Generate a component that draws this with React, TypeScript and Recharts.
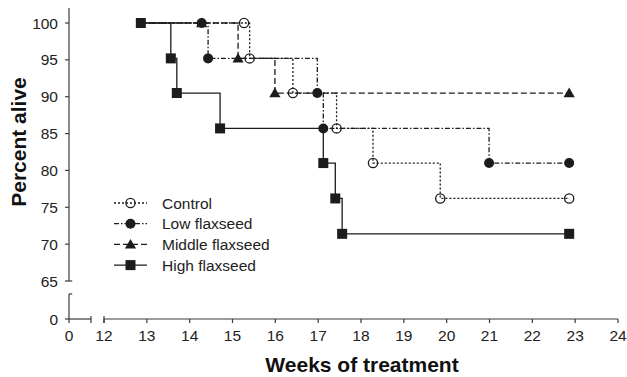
import React from "react";
import { LineChart, Line, XAxis, YAxis, ReferenceLine } from "recharts";

// Kaplan-Meier survival, 21 animals per group (weeks, % alive, marker shown)
const controlWeeks = [12.86, 15.27, 15.4, 16.41, 17.43, 18.28, 19.85, 22.86];
const controlAlive = [100, 100, 95.2, 90.5, 85.7, 81.0, 76.2, 76.2];
const controlMarks = [false, true, true, true, true, true, true, true];

const lowWeeks = [12.86, 14.28, 14.43, 16.98, 17.12, 20.99, 22.86];
const lowAlive = [100, 100, 95.2, 90.5, 85.7, 81.0, 81.0];
const lowMarks = [false, true, true, true, true, true, true];

const middleWeeks = [12.86, 14.28, 15.13, 15.99, 22.86];
const middleAlive = [100, 100, 95.2, 90.5, 90.5];
const middleMarks = [false, true, true, true, true];

const highWeeks = [12.86, 13.56, 13.7, 14.71, 17.12, 17.4, 17.56, 22.86];
const highAlive = [100, 95.2, 90.5, 85.7, 81.0, 76.2, 71.4, 71.4];
const highMarks = [true, true, true, true, true, true, true, true];

// broken axes: "0" sits on a compressed stub before the break
const X_ZERO = 11.183;
const X_BREAK = 11.697;
const Y_ZERO = 59.845;
const Y_BREAK = 63.24;
const Y_TOP = 102.035;

const xTicks = [X_ZERO, 12, 13, 14, 15, 16, 17, 18, 19, 20, 21, 22, 23, 24];
const yTicks = [Y_ZERO, 65, 70, 75, 80, 85, 90, 95, 100];

const INK = "#1c1c1c";
const AXIS = "#3a3a3a";
const FONT = "'Liberation Sans', Arial, Helvetica, sans-serif";

type MarkerKind = "openCircle" | "circle" | "triangle" | "square";

const toRows = (weeks: number[], alive: number[], marks: boolean[]) =>
  weeks.map((x, i) => ({ x, y: alive[i], m: marks[i] }));

const series = [
  { name: "Middle flaxseed", data: toRows(middleWeeks, middleAlive, middleMarks), dash: "6 3", marker: "triangle" as MarkerKind },
  { name: "Control", data: toRows(controlWeeks, controlAlive, controlMarks), dash: "2 2", marker: "openCircle" as MarkerKind },
  { name: "Low flaxseed", data: toRows(lowWeeks, lowAlive, lowMarks), dash: "5 2 1.5 2", marker: "circle" as MarkerKind },
  { name: "High flaxseed", data: toRows(highWeeks, highAlive, highMarks), dash: undefined, marker: "square" as MarkerKind },
];

const legendOrder = ["Control", "Low flaxseed", "Middle flaxseed", "High flaxseed"];

function Marker({ kind, cx, cy }: { kind: MarkerKind; cx: number; cy: number }) {
  if (kind === "openCircle")
    return <circle cx={cx} cy={cy} r={4.6} fill="none" stroke={INK} strokeWidth={1.3} />;
  if (kind === "circle") return <circle cx={cx} cy={cy} r={5} fill={INK} />;
  if (kind === "triangle")
    return <path d={`M${cx},${cy - 5.5}L${cx + 5.6},${cy + 4.2}L${cx - 5.6},${cy + 4.2}Z`} fill={INK} />;
  return <rect x={cx - 5} y={cy - 5} width={10} height={10} fill={INK} />;
}

// legend drawn inside the plot, upper-left of the x axis
function LegendBox({ left, top }: { left: number; top: number }) {
  const rowH = 20.7;
  return (
    <g>
      {legendOrder.map((name, i) => {
        const s = series.find((d) => d.name === name)!;
        const cy = top + i * rowH;
        return (
          <g key={name}>
            <line x1={left} y1={cy} x2={left + 33} y2={cy} stroke={INK} strokeWidth={1.3} strokeDasharray={s.dash} />
            <Marker kind={s.marker} cx={left + 16.5} cy={cy} />
            <text
              x={left + 48}
              y={cy}
              dy="0.36em"
              style={{ fontFamily: FONT, fontSize: 15.5, fill: "#222" }}
            >
              {name}
            </text>
          </g>
        );
      })}
    </g>
  );
}

const axisSegments = [
  [{ x: X_ZERO, y: 65 }, { x: X_ZERO, y: Y_TOP }],
  [{ x: X_ZERO, y: Y_ZERO }, { x: X_ZERO, y: Y_BREAK }],
  [{ x: X_ZERO, y: 65 }, { x: X_ZERO + 0.075, y: 65 }],
  [{ x: X_ZERO, y: Y_BREAK }, { x: X_ZERO + 0.075, y: Y_BREAK }],
  [{ x: X_ZERO, y: Y_ZERO }, { x: X_BREAK, y: Y_ZERO }],
  [{ x: 12, y: Y_ZERO }, { x: 24, y: Y_ZERO }],
  [{ x: X_BREAK, y: Y_ZERO - 0.54 }, { x: X_BREAK, y: Y_ZERO + 0.41 }],
  [{ x: 12, y: Y_ZERO - 0.54 }, { x: 12, y: Y_ZERO + 0.41 }],
];

export default function App() {
  const tickStyle = { fontFamily: FONT, fontSize: 15.5, fill: "#222" };

  return (
    <div style={{ width: 627, height: 377, background: "#fff" }}>
      <style>{`body{margin:0}`}</style>
      <LineChart width={627} height={377} margin={{ top: 8, right: 9, bottom: 0, left: 0 }}>
        <XAxis
          dataKey="x"
          type="number"
          domain={[X_ZERO, 24]}
          allowDataOverflow
          ticks={xTicks}
          tickFormatter={(v: number) => (v < 12 ? "0" : String(v))}
          axisLine={false}
          tickLine={{ stroke: AXIS, strokeWidth: 1.2 }}
          tickSize={4}
          tickMargin={7}
          tick={tickStyle}
          height={58}
          interval={0}
        />
        <YAxis
          type="number"
          domain={[Y_ZERO, Y_TOP]}
          allowDataOverflow
          ticks={yTicks}
          tickFormatter={(v: number) => (v < 65 ? "0" : String(v))}
          axisLine={false}
          tickLine={{ stroke: AXIS, strokeWidth: 1.2 }}
          tickSize={4}
          tickMargin={7}
          tick={tickStyle}
          width={69}
          interval={0}
        />
        {axisSegments.map((seg, i) => (
          <ReferenceLine
            key={`axis-${i}`}
            segment={seg}
            stroke={AXIS}
            strokeWidth={1.2}
            ifOverflow="visible"
          />
        ))}
        {series.map((s) => (
          <Line
            key={s.name}
            name={s.name}
            data={s.data}
            dataKey="y"
            type="stepAfter"
            stroke={INK}
            strokeWidth={1.3}
            strokeDasharray={s.dash}
            isAnimationActive={false}
            activeDot={false}
            dot={(p: any) =>
              p.payload.m ? (
                <Marker key={`${s.name}-${p.index}`} kind={s.marker} cx={p.cx} cy={p.cy} />
              ) : (
                <g key={`${s.name}-${p.index}`} />
              )
            }
          />
        ))}
        <LegendBox left={114} top={203} />
        <text
          x={362}
          y={372}
          textAnchor="middle"
          style={{ fontFamily: FONT, fontSize: 21, fontWeight: 700, fill: "#111" }}
        >
          Weeks of treatment
        </text>
        <text
          x={26}
          y={142}
          textAnchor="middle"
          transform="rotate(-90 26 142)"
          style={{ fontFamily: FONT, fontSize: 21, fontWeight: 700, fill: "#111" }}
        >
          Percent alive
        </text>
      </LineChart>
    </div>
  );
}
